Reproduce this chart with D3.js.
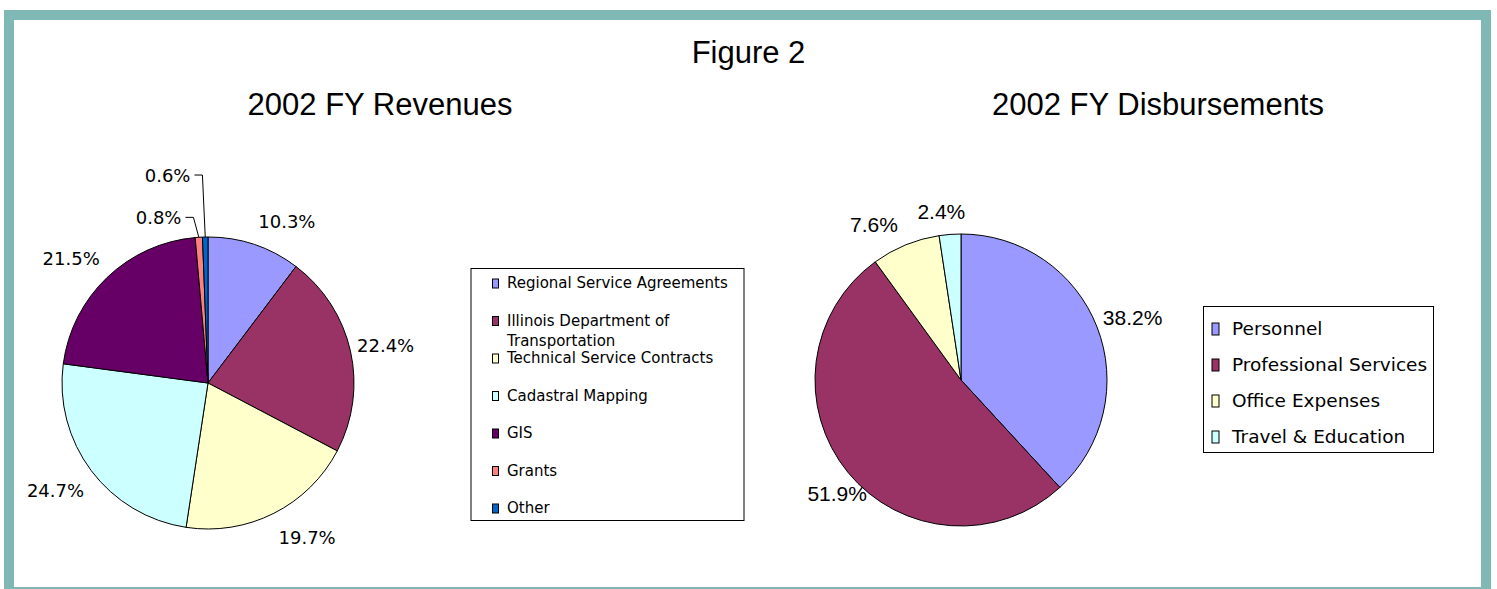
<!DOCTYPE html>
<html lang="en">
    <head>
        <meta charset="utf-8">
        <title>Figure 2</title>
        <style>
            body { margin: 0; background: #fff; }
            svg { display: block; }
        </style>
    </head>
    <body>
        <div id="chart"></div>
        <script src="https://d3js.org/d3.v7.min.js"></script>
        <script>
            // revenues
            const revCategories = ["Regional Service Agreements", "Illinois Department of Transportation",
                "Technical Service Contracts", "Cadastral Mapping", "GIS", "Grants", "Other"];
            const revValues = [10.3, 22.4, 19.7, 24.7, 21.5, 0.8, 0.6];
            // disbursements
            const disCategories = ["Personnel", "Professional Services", "Office Expenses", "Travel & Education"];
            const disValues = [38.2, 51.9, 7.6, 2.4];

            const colors = ["#9999FF", "#993366", "#FFFFCC", "#CCFFFF", "#660066", "#FF8080", "#0066CC"];

            const W = 1497, H = 589;
            const teal = "#80B8B6";
            const titleFont = "'Liberation Sans', Arial, sans-serif";
            const tahomaFont = "'DejaVu Sans', Verdana, sans-serif";

            const svg = d3.select("#chart").append("svg")
                .attr("width", W)
                .attr("height", H);

            svg.append("rect").attr("width", W).attr("height", H).attr("fill", "#fff");

            // frame
            svg.append("rect").attr("x", 4).attr("y", 10).attr("width", 1487).attr("height", 10).attr("fill", teal);
            svg.append("rect").attr("x", 4).attr("y", 10).attr("width", 10).attr("height", 579).attr("fill", teal);
            svg.append("rect").attr("x", 1481).attr("y", 10).attr("width", 10).attr("height", 579).attr("fill", teal);
            svg.append("rect").attr("x", 4).attr("y", 587).attr("width", 1487).attr("height", 2).attr("fill", teal);

            function title(x, y, txt) {
                svg.append("text")
                    .attr("x", x).attr("y", y)
                    .attr("text-anchor", "middle")
                    .style("font-family", titleFont)
                    .style("font-size", "31px")
                    .attr("fill", "#000")
                    .text(txt);
            }
            title(748.5, 63, "Figure 2");
            title(380, 115, "2002 FY Revenues");
            title(1158, 115, "2002 FY Disbursements");

            function drawPie(opts) {
                const g = svg.append("g").attr("transform", `translate(${opts.cx},${opts.cy})`);
                const pie = d3.pie().sort(null).value(d => d);
                const arcs = pie(opts.values);
                const arc = d3.arc().innerRadius(0).outerRadius(opts.r);
                const labelArc = d3.arc().innerRadius(opts.labelR).outerRadius(opts.labelR);
                const edgeArc = d3.arc().innerRadius(opts.r).outerRadius(opts.r);

                g.selectAll("path.slice")
                    .data(arcs)
                    .join("path")
                    .attr("class", "slice")
                    .attr("d", arc)
                    .attr("fill", (d, i) => colors[i])
                    .attr("stroke", "#000")
                    .attr("stroke-width", 1)
                    .attr("stroke-linejoin", "round");

                arcs.forEach((d, i) => {
                    const c = labelArc.centroid(d);
                    const s = opts.shift[i];
                    const x = c[0] + s[0], y = c[1] + s[1];
                    const t = g.append("text")
                        .attr("x", x).attr("y", y)
                        .attr("dy", "0.36em")
                        .attr("text-anchor", "middle")
                        .style("font-family", opts.font)
                        .style("font-size", opts.fontSize)
                        .attr("fill", "#000")
                        .text(opts.values[i].toFixed(1) + "%");
                    if (opts.leader[i]) {
                        const bb = t.node().getBBox();
                        const e = edgeArc.centroid(d);
                        const x0 = bb.x + bb.width + 4;
                        g.append("path")
                            .attr("d", `M${x0},${y}H${x0 + 8}L${e[0]},${e[1]}`)
                            .attr("fill", "none")
                            .attr("stroke", "#000")
                            .attr("stroke-width", 1);
                    }
                });
            }

            drawPie({
                cx: 208, cy: 383, r: 146, labelR: 182,
                values: revValues,
                font: tahomaFont, fontSize: "18px",
                shift: [[21, 11], [0, 2], [17, -8], [-7, -2], [-11, 7], [-38, 16], [-37, -26]],
                leader: [false, false, false, false, false, true, true]
            });

            drawPie({
                cx: 961, cy: 380, r: 146, labelR: 182,
                values: disValues,
                font: titleFont, fontSize: "21px",
                shift: [[2, 4], [17, -2], [-18, 13], [-6, 13]],
                leader: [false, false, false, false]
            });

            function legend(opts) {
                const g = svg.append("g");
                g.append("rect")
                    .attr("x", opts.x).attr("y", opts.y)
                    .attr("width", opts.w).attr("height", opts.h)
                    .attr("fill", "#fff")
                    .attr("stroke", "#000")
                    .attr("stroke-width", 1);

                opts.items.forEach((name, i) => {
                    const base = opts.firstBase + i * opts.step;
                    g.append("rect")
                        .attr("x", opts.x + opts.swX).attr("y", base - opts.swH)
                        .attr("width", opts.swW).attr("height", opts.swH)
                        .attr("fill", colors[i])
                        .attr("stroke", "#000")
                        .attr("stroke-width", 1);
                    const t = g.append("text")
                        .attr("x", opts.x + opts.txX).attr("y", base)
                        .style("font-family", tahomaFont)
                        .style("font-size", opts.fontSize)
                        .attr("fill", "#000");
                    // wrap long names
                    const words = name.split(" ");
                    let line = [];
                    let tspan = t.append("tspan").attr("x", opts.x + opts.txX);
                    let lineNo = 0;
                    words.forEach(w => {
                        line.push(w);
                        tspan.text(line.join(" "));
                        if (tspan.node().getComputedTextLength() > opts.maxW && line.length > 1) {
                            line.pop();
                            tspan.text(line.join(" "));
                            line = [w];
                            lineNo++;
                            tspan = t.append("tspan")
                                .attr("x", opts.x + opts.txX)
                                .attr("y", base + lineNo * opts.lineH)
                                .text(w);
                        }
                    });
                });
            }

            legend({
                x: 471, y: 268.5, w: 273, h: 252,
                items: revCategories,
                firstBase: 288, step: 37.5,
                swX: 21.5, swW: 6, swH: 9,
                txX: 36, fontSize: "15px", maxW: 228, lineH: 20
            });

            legend({
                x: 1203.5, y: 306.5, w: 230, h: 146,
                items: disCategories,
                firstBase: 335, step: 36,
                swX: 8.5, swW: 7, swH: 12,
                txX: 28.5, fontSize: "18.5px", maxW: 220, lineH: 22
            });
        </script>
    </body>
</html>
